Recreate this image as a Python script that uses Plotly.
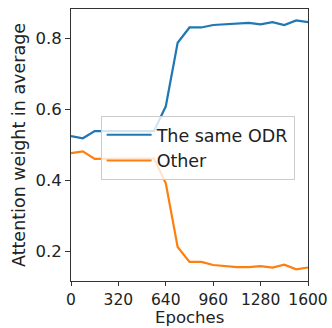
import plotly.graph_objects as go

epochs = [0, 80, 160, 240, 320, 400, 480, 560, 640, 720, 800, 880, 960, 1040, 1120, 1200, 1280, 1360, 1440, 1520, 1600]
same_odr = [0.525, 0.519, 0.539, 0.539, 0.539, 0.539, 0.539, 0.539, 0.609, 0.788, 0.831, 0.831, 0.838, 0.840, 0.844, 0.844, 0.840, 0.846, 0.838, 0.851, 0.846]
other = [0.477, 0.482, 0.461, 0.462, 0.462, 0.462, 0.462, 0.462, 0.392, 0.213, 0.171, 0.171, 0.162, 0.159, 0.156, 0.156, 0.159, 0.155, 0.163, 0.150, 0.155]
x_ticks = [0, 320, 640, 960, 1280, 1600]
y_ticks = [0.2, 0.4, 0.6, 0.8]

fig = go.Figure()
fig.add_trace(go.Scatter(x=epochs, y=same_odr, mode="lines", name="The same ODR",
                         line=dict(color="#1f77b4", width=2.2)))
fig.add_trace(go.Scatter(x=epochs, y=other, mode="lines", name="Other",
                         line=dict(color="#ff7f0e", width=2.2)))

axis_common = dict(showgrid=False, zeroline=False, showline=True, linecolor="#333333",
                   linewidth=1, mirror=True, ticks="outside", tickcolor="#333333",
                   automargin=False)
fig.update_xaxes(range=[0, 1600], tickvals=x_ticks, ticktext=[str(t) for t in x_ticks],
                 ticklen=4, tickfont=dict(size=15.5, color="#222222"), **axis_common)
fig.update_yaxes(range=[0.117, 0.883], tickvals=y_ticks, ticktext=[f"{t:.1f}" for t in y_ticks],
                 ticklen=5, tickfont=dict(size=16.5, color="#222222"),
                 title=dict(text="Attention weight in average", font=dict(size=17.5, color="#222222"), standoff=5),
                 **axis_common)

fig.add_annotation(text="Epoches", xref="paper", yref="paper", x=0.5, y=-0.1728,
                   xanchor="center", yanchor="bottom", showarrow=False, borderpad=0,
                   font=dict(size=16.5, color="#222222"))

fig.update_layout(
    width=332, height=328,
    margin=dict(l=71, r=24, t=9, b=47),
    paper_bgcolor="white", plot_bgcolor="white",
    font=dict(family="DejaVu Sans", size=16, color="#222222"),
    legend=dict(x=0.125, y=0.607, xanchor="left", yanchor="top",
                bgcolor="rgba(255,255,255,0.8)", bordercolor="#cccccc", borderwidth=1,
                font=dict(size=17.5), tracegroupgap=0, itemwidth=45),
    showlegend=True,
)

fig.write_html("out.html")
